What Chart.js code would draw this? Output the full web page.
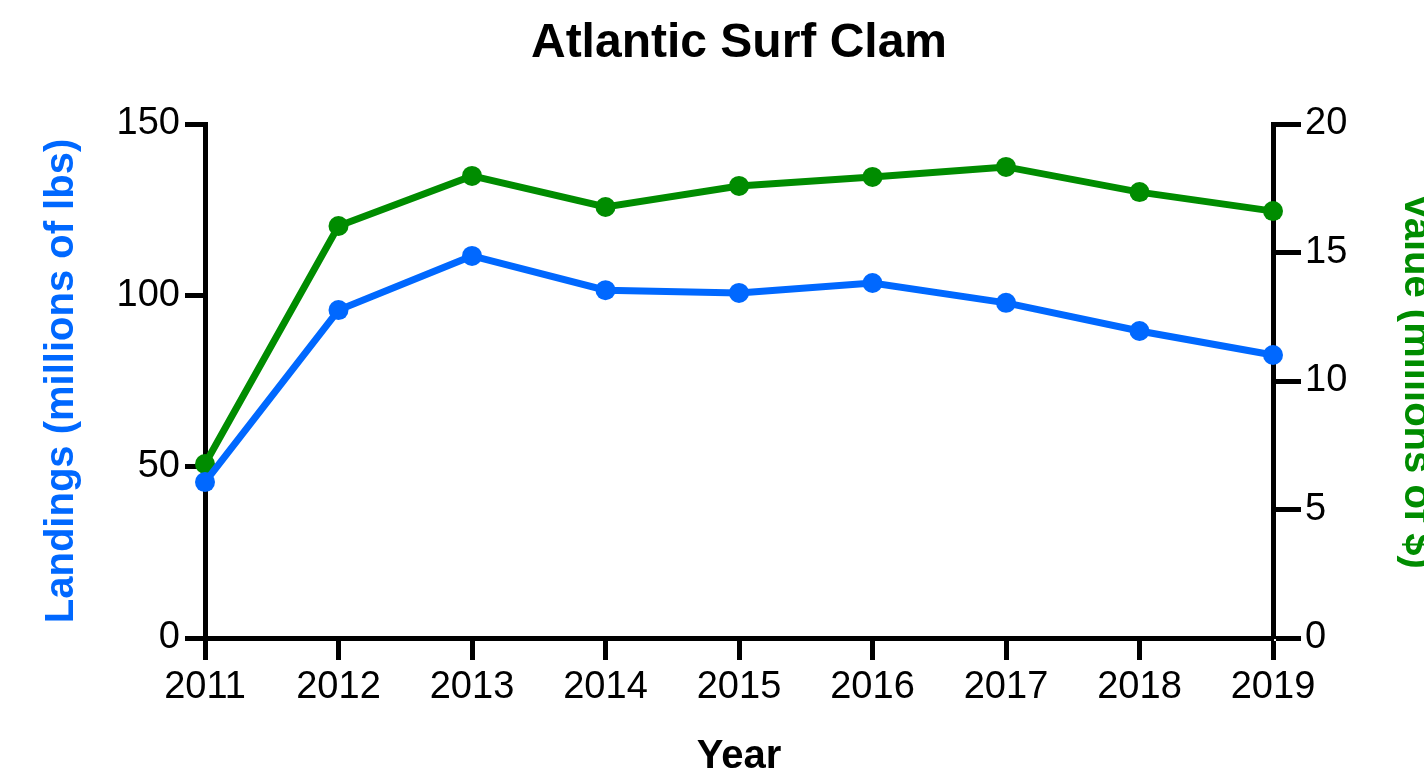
<!DOCTYPE html>
<html>
<head>
<meta charset="utf-8">
<script src="https://cdn.jsdelivr.net/npm/chart.js@4"></script>
<style>
  html, body { margin: 0; padding: 0; background: #fff; overflow: hidden; }
  #chart { display: block; }
</style>
</head>
<body>
<canvas id="chart" width="1440" height="773"></canvas>
<script>
// landings and value by year
const years = ['2011', '2012', '2013', '2014', '2015', '2016', '2017', '2018', '2019'];
const landings = [45.5, 95.7, 111.5, 101.5, 100.7, 103.6, 97.8, 89.6, 82.6];
const value = [6.77, 16.03, 17.98, 16.77, 17.59, 17.94, 18.33, 17.35, 16.61];

const BLUE = '#0068ff';
const GREEN = '#008c00';
const FONT = '"Liberation Sans", Arial, sans-serif';

// pin the plot box so the axes land where they should
const fixWidth = w => scale => { scale.width = w; };
const fixHeight = h => scale => { scale.height = h; };

new Chart(document.getElementById('chart'), {
  type: 'line',
  data: {
    labels: years,
    datasets: [
      {
        label: 'Landings',
        data: landings,
        yAxisID: 'y',
        borderColor: BLUE,
        backgroundColor: BLUE,
        pointBackgroundColor: BLUE,
        borderWidth: 7,
        pointRadius: 10,
        pointBorderWidth: 0,
        clip: false
      },
      {
        label: 'Value',
        data: value,
        yAxisID: 'y1',
        borderColor: GREEN,
        backgroundColor: GREEN,
        pointBackgroundColor: GREEN,
        borderWidth: 7,
        pointRadius: 10,
        pointBorderWidth: 0,
        clip: false
      }
    ]
  },
  options: {
    responsive: false,
    animation: false,
    layout: { padding: 0 },
    plugins: {
      legend: { display: false },
      tooltip: { enabled: false },
      title: {
        display: true,
        fullSize: false,
        text: 'Atlantic Surf Clam',
        color: '#000',
        font: { family: FONT, size: 48, weight: 'bold', lineHeight: 1.2 },
        padding: { top: 15, bottom: 51.4 }
      }
    },
    scales: {
      x: {
        offset: false,
        afterFit: fixHeight(135),
        grid: { drawOnChartArea: false, offset: false, tickLength: 22, tickWidth: 5, tickColor: '#000' },
        border: { display: true, width: 5, color: '#000' },
        ticks: { color: '#000', padding: 5, font: { family: FONT, size: 38 }, maxRotation: 0 },
        title: {
          display: true,
          text: 'Year',
          color: '#000',
          font: { family: FONT, size: 40, weight: 'bold', lineHeight: 1 },
          padding: { top: 0, bottom: -4 }
        }
      },
      y: {
        position: 'left',
        min: 0,
        max: 150,
        afterFit: fixWidth(205),
        grid: { drawOnChartArea: false, tickLength: 20, tickWidth: 5, tickColor: '#000' },
        border: { display: true, width: 5, color: '#000' },
        ticks: { stepSize: 50, color: '#000', padding: 5, font: { family: FONT, size: 38 } },
        title: {
          display: true,
          text: 'Landings (millions of lbs)',
          color: BLUE,
          font: { family: FONT, size: 40, weight: 'bold', lineHeight: 1.2 },
          padding: { top: 38, bottom: 0 }
        }
      },
      y1: {
        position: 'right',
        min: 0,
        max: 20,
        afterFit: fixWidth(167),
        grid: { drawOnChartArea: false, tickLength: 28, tickWidth: 5, tickColor: '#000' },
        border: { display: true, width: 5, color: '#000' },
        ticks: { stepSize: 5, color: '#000', padding: 4, font: { family: FONT, size: 38 } },
        title: {
          display: true,
          text: 'Value (millions of $)',
          color: GREEN,
          font: { family: FONT, size: 40, weight: 'bold', lineHeight: 1.2 },
          padding: { top: 0, bottom: 0 }
        }
      }
    }
  }
});
</script>
</body>
</html>
